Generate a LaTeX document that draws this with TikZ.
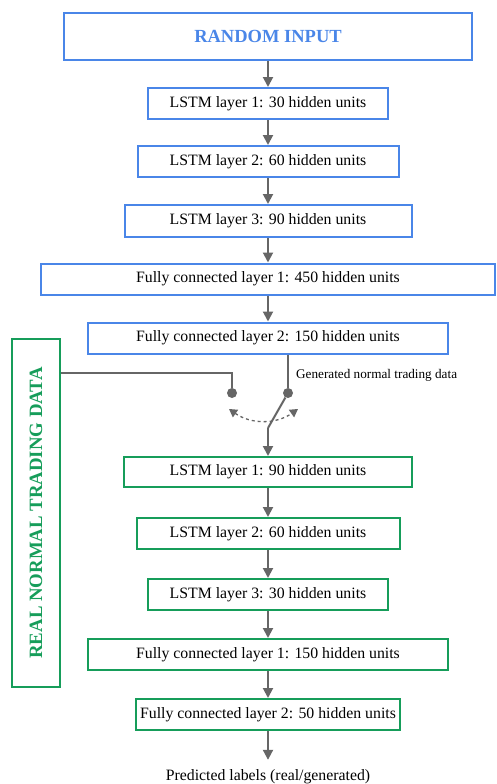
\documentclass[tikz,border=0pt]{standalone}
\usepackage{fontspec}
\setmainfont{Liberation Serif}
\usetikzlibrary{arrows.meta}
\definecolor{gblue}{HTML}{4A86E8}
\definecolor{ggreen}{HTML}{169D5A}
\definecolor{ggray}{HTML}{666666}
\begin{document}
\begin{tikzpicture}[x=1pt,y=-1pt,
  layer/.style={draw=#1, line width=2pt, inner sep=0pt, minimum height=31pt, font=\fontsize{15.8}{18}\selectfont},
  arr/.style={draw=ggray, line width=2pt, -{Triangle[length=10pt,width=10pt]}},
  wire/.style={draw=ggray, line width=2pt},
  dot/.style={circle, fill=ggray, inner sep=0pt, minimum size=10pt}]
  \useasboundingbox (0,0) rectangle (496,784);
  % generator
  \node[layer=gblue, minimum width=408pt, minimum height=47pt, text=gblue, font=\bfseries\fontsize{18.5}{20}\selectfont] (in) at (268,36.5) {RANDOM INPUT};
  \node[layer=gblue, minimum width=240pt] (b1) at (268,103.5) {LSTM layer 1: 30 hidden units};
  \node[layer=gblue, minimum width=261pt] (b2) at (268,161.5) {LSTM layer 2: 60 hidden units};
  \node[layer=gblue, minimum width=287pt, minimum height=32pt] (b3) at (268,221) {LSTM layer 3: 90 hidden units};
  \node[layer=gblue, minimum width=454pt] (b4) at (268,279) {Fully connected layer 1: 450 hidden units};
  \node[layer=gblue, minimum width=360pt] (b5) at (268,338) {Fully connected layer 2: 150 hidden units};
  % discriminator
  \node[layer=ggreen, minimum width=288pt, minimum height=30pt] (g1) at (268,472) {LSTM layer 1: 90 hidden units};
  \node[layer=ggreen, minimum width=263pt] (g2) at (268,533.5) {LSTM layer 2: 60 hidden units};
  \node[layer=ggreen, minimum width=240pt] (g3) at (268,594.5) {LSTM layer 3: 30 hidden units};
  \node[layer=ggreen, minimum width=360pt] (g4) at (268,654.5) {Fully connected layer 1: 150 hidden units};
  \node[layer=ggreen, minimum width=264pt] (g5) at (268,714.5) {Fully connected layer 2: 50 hidden units};
  \node[font=\fontsize{15.8}{18}\selectfont, inner sep=0pt, outer sep=10pt] (out) at (268,777) {Predicted labels (real/generated)};
  % real data
  \node[layer=ggreen, minimum width=48pt, minimum height=348pt] (real) at (36,513) {};
  \node[rotate=90, text=ggreen, font=\bfseries\fontsize{18.8}{20}\selectfont] (realtxt) at (real) {REAL NORMAL TRADING DATA};

  \foreach \a/\b in {in/b1,b1/b2,b2/b3,b3/b4,b4/b5,g1/g2,g2/g3,g3/g4,g4/g5,g5/out}
    \draw[arr] (\a) -- (\b);

  % switch
  \node[dot] (s1) at (232,393) {};
  \node[dot] (s2) at (288,393) {};
  \coordinate (pivot) at (268,428);
  \node[anchor=west, inner sep=0pt, font=\fontsize{13.2}{15}\selectfont] (gen) at (296,375) {Generated normal trading data};
  \draw[wire] ([yshift=-35pt]real.north east) -| (s1);
  \draw[wire] (b5.south -| s2) -- (s2);
  \draw[wire] (s2) -- (pivot);
  \draw[arr] (pivot) -- (g1.north);
  \draw[ggray, dashed, line width=1.3pt, {Triangle[length=8pt,width=9pt]}-{Triangle[length=8pt,width=9pt]}]
    ([xshift=-3pt,yshift=-16pt]s1.center) to[bend right=35] ([xshift=10pt,yshift=-16pt]s2.center);
\end{tikzpicture}
\end{document}
